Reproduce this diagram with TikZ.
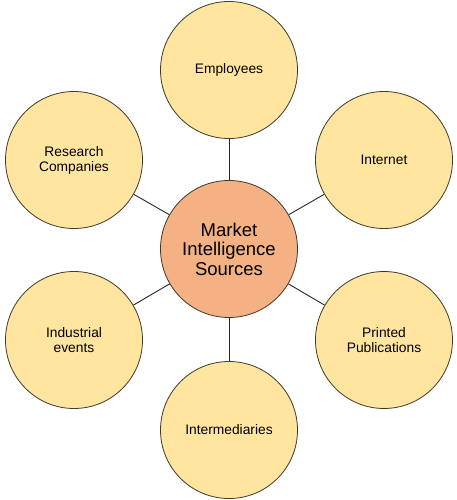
\documentclass[tikz,border=0pt]{standalone}
\usepackage{fontspec}
\setmainfont{Liberation Sans}
\definecolor{outerfill}{HTML}{FFE59F}
\definecolor{centerfill}{HTML}{F4B183}
\definecolor{rim}{HTML}{3F3A2A}
\begin{document}
\begin{tikzpicture}[x=1pt,y=-1pt,
  outer/.style={circle,draw=rim,line width=0.8pt,fill=outerfill,minimum size=137pt,inner sep=0pt,align=center,font=\fontsize{13.8}{15}\selectfont},
  hub/.style={circle,draw=rim,line width=0.8pt,fill=centerfill,minimum size=137pt,inner sep=0pt,align=center,font=\fontsize{18.5}{19.5}\selectfont},
  link/.style={draw=black!85,line width=0.9pt}]
\useasboundingbox (0,0) rectangle (457,500);
\node[hub] (c) at (229,249) {Market\\Intelligence\\Sources};
\node[outer] (emp) at (229,70) {Employees};
\node[outer] (int) at (384,160) {Internet};
\node[outer] (pri) at (384,340) {Printed\\Publications};
\node[outer] (med) at (229,430) {Intermediaries};
\node[outer] (ind) at (74,340) {Industrial\\events};
\node[outer] (res) at (74,160) {Research\\Companies};
\foreach \n in {emp,int,pri,med,ind,res} \draw[link] (c) -- (\n);
\end{tikzpicture}
\end{document}
